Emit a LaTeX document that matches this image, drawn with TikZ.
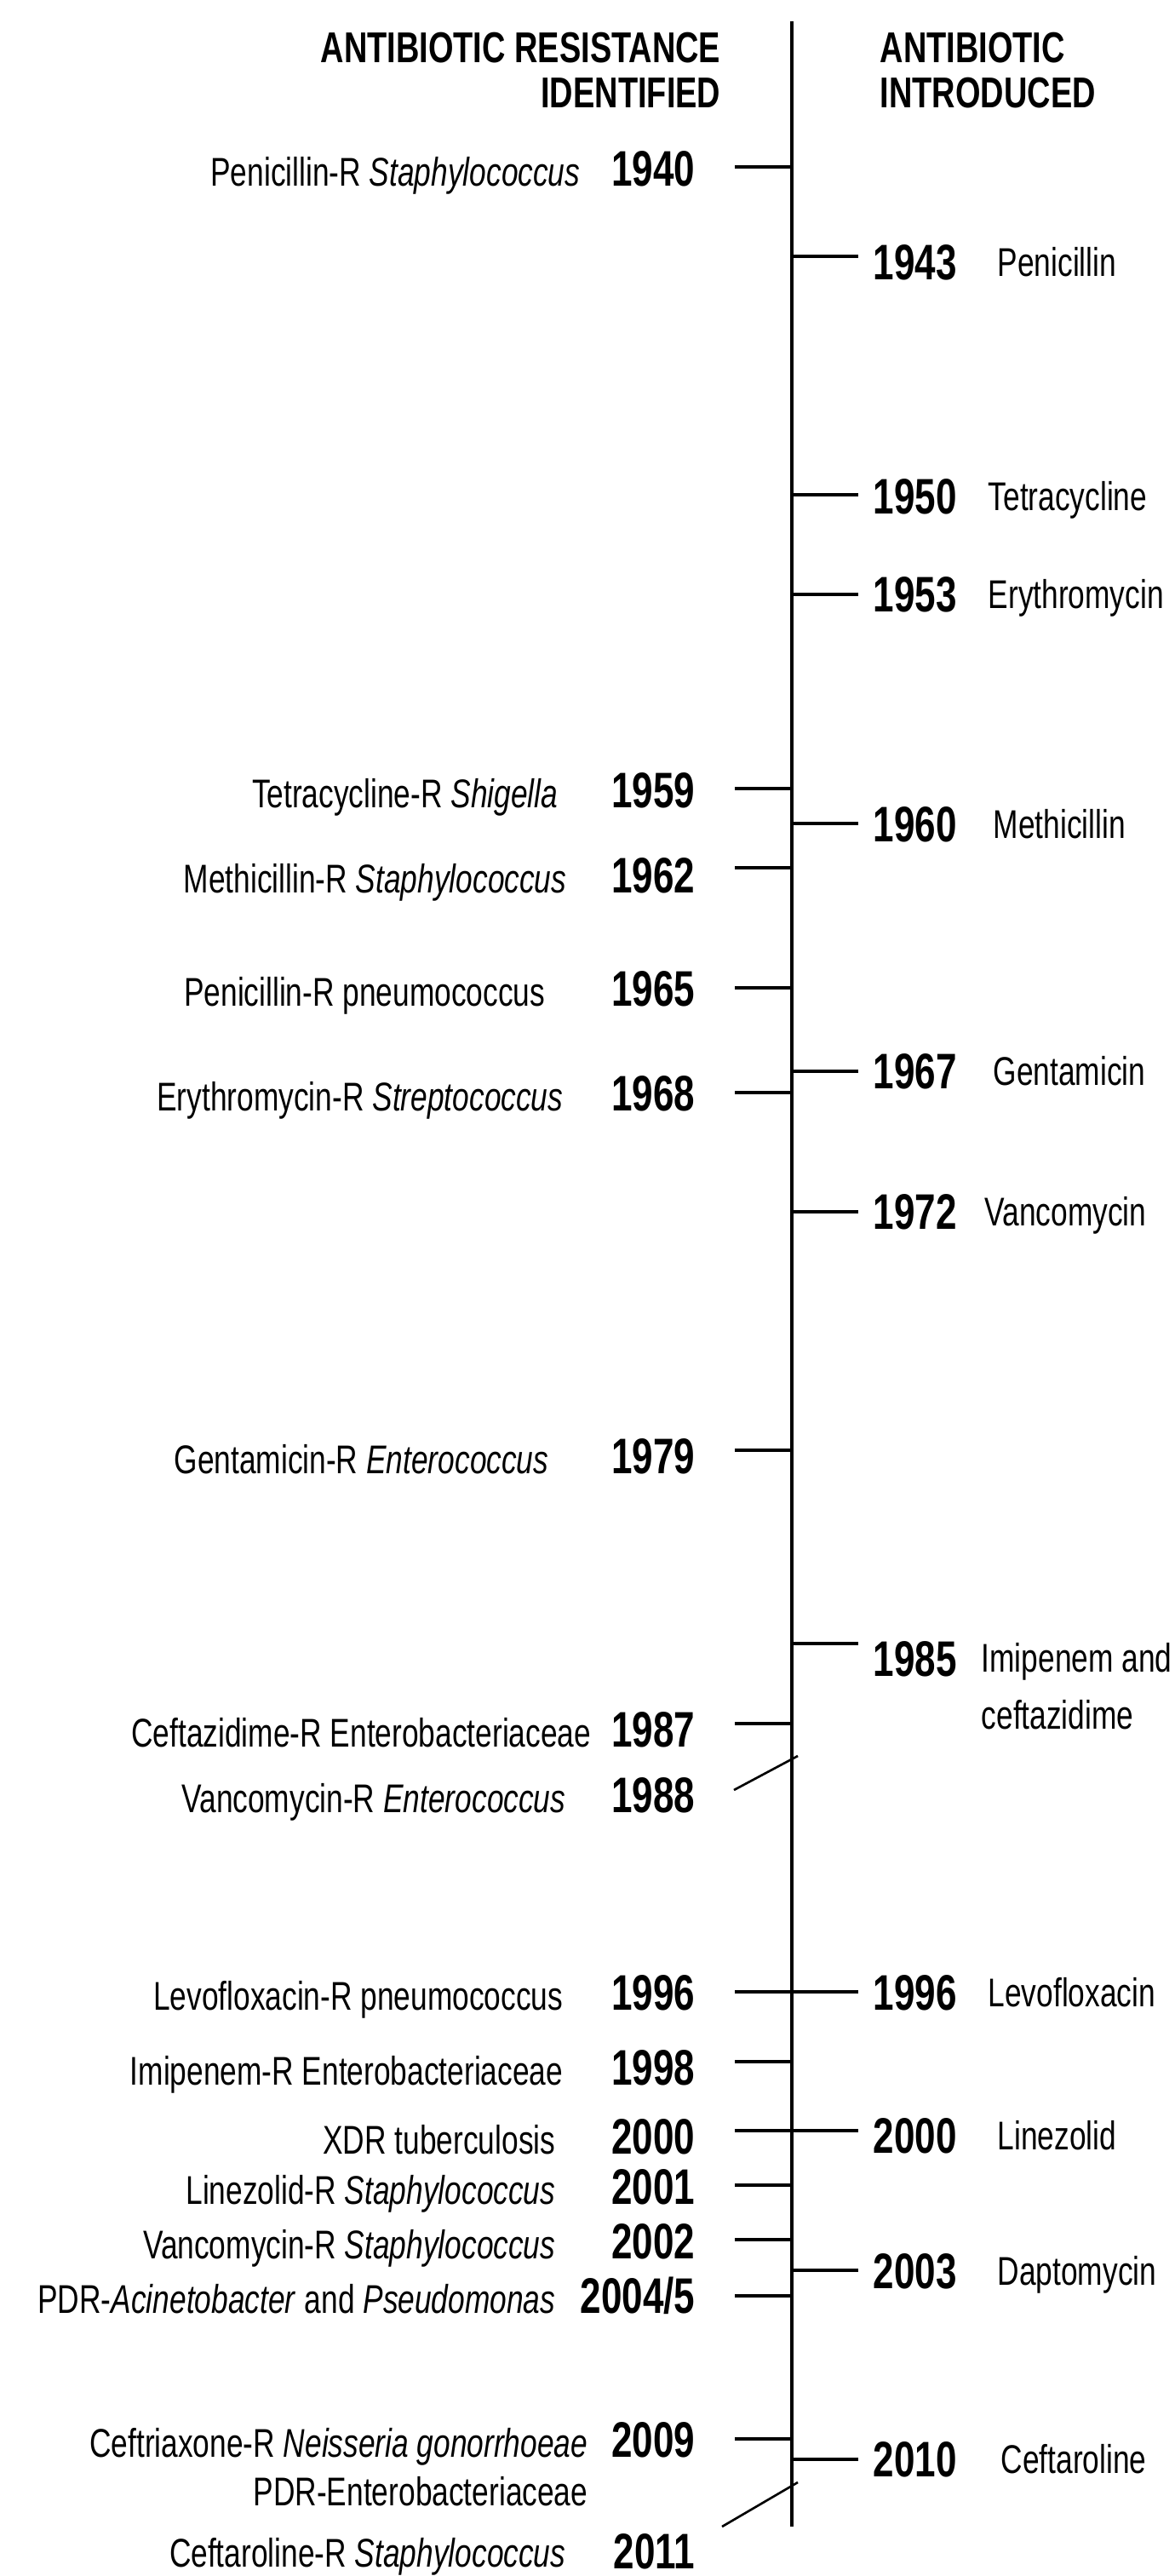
\documentclass[tikz,border=0pt]{standalone}
\usepackage{fontspec}
\setmainfont{Liberation Sans}[FakeStretch=0.75]
\usepackage{tikz}

\tikzset{
  axisline/.style={line width=0.95pt},
  tickline/.style={line width=0.95pt},
  slantline/.style={line width=0.75pt},
  heading/.style={font=\fontsize{14.4}{15.1}\selectfont\bfseries, inner sep=0pt},
  yearlabel/.style={font=\fontsize{16.7}{20}\selectfont\bfseries, inner sep=0pt},
  eventlabel/.style={font=\fontsize{13.4}{16.5}\selectfont, inner sep=0pt}
}

\begin{document}
\begin{tikzpicture}
\useasboundingbox (0,0) rectangle (13.80,-30.25);

\coordinate (top) at (9.30,-0.25);
\coordinate (bot) at (9.30,-29.67);
\draw[axisline] (top) -- (bot);

\node[heading, anchor=north east, align=right] (hres) at (8.47,-0.37) {ANTIBIOTIC RESISTANCE\\IDENTIFIED};
\node[heading, anchor=north west, align=left] (hint) at (10.33,-0.37) {ANTIBIOTIC\\INTRODUCED};

\coordinate (rt1940) at (8.63,-1.96);
\coordinate (rt1959) at (8.63,-9.26);
\coordinate (rt1962) at (8.63,-10.19);
\coordinate (rt1965) at (8.63,-11.60);
\coordinate (rt1968) at (8.63,-12.83);
\coordinate (rt1979) at (8.63,-17.03);
\coordinate (rt1987) at (8.63,-20.24);
\coordinate (rt1988) at (8.62,-21.02);
\coordinate (ra1988) at (9.37,-20.62);
\coordinate (rt1996) at (8.63,-23.39);
\coordinate (rt1998) at (8.63,-24.21);
\coordinate (rt2000) at (8.63,-25.02);
\coordinate (rt2001) at (8.63,-25.66);
\coordinate (rt2002) at (8.63,-26.30);
\coordinate (rt2004) at (8.63,-26.96);
\coordinate (rt2009) at (8.63,-28.64);
\coordinate (rt2011) at (8.48,-29.67);
\coordinate (ra2011) at (9.37,-29.15);

\draw[tickline] (rt1940) -- (rt1940 -| top);
\draw[tickline] (rt1959) -- (rt1959 -| top);
\draw[tickline] (rt1962) -- (rt1962 -| top);
\draw[tickline] (rt1965) -- (rt1965 -| top);
\draw[tickline] (rt1968) -- (rt1968 -| top);
\draw[tickline] (rt1979) -- (rt1979 -| top);
\draw[tickline] (rt1987) -- (rt1987 -| top);
\draw[slantline] (rt1988) -- (ra1988);
\draw[tickline] (rt1996) -- (rt1996 -| top);
\draw[tickline] (rt1998) -- (rt1998 -| top);
\draw[tickline] (rt2000) -- (rt2000 -| top);
\draw[tickline] (rt2001) -- (rt2001 -| top);
\draw[tickline] (rt2002) -- (rt2002 -| top);
\draw[tickline] (rt2004) -- (rt2004 -| top);
\draw[tickline] (rt2009) -- (rt2009 -| top);
\draw[slantline] (rt2011) -- (ra2011);

\node[yearlabel, anchor=base east] (ry1940) at (8.17,-2.18) {1940};
\node[yearlabel, anchor=base east] (ry1959) at (8.17,-9.48) {1959};
\node[yearlabel, anchor=base east] (ry1962) at (8.17,-10.48) {1962};
\node[yearlabel, anchor=base east] (ry1965) at (8.17,-11.81) {1965};
\node[yearlabel, anchor=base east] (ry1968) at (8.17,-13.04) {1968};
\node[yearlabel, anchor=base east] (ry1979) at (8.17,-17.30) {1979};
\node[yearlabel, anchor=base east] (ry1987) at (8.17,-20.51) {1987};
\node[yearlabel, anchor=base east] (ry1988) at (8.17,-21.28) {1988};
\node[yearlabel, anchor=base east] (ry1996) at (8.17,-23.60) {1996};
\node[yearlabel, anchor=base east] (ry1998) at (8.17,-24.48) {1998};
\node[yearlabel, anchor=base east] (ry2000) at (8.17,-25.29) {2000};
\node[yearlabel, anchor=base east] (ry2001) at (8.17,-25.88) {2001};
\node[yearlabel, anchor=base east] (ry2002) at (8.17,-26.52) {2002};
\node[yearlabel, anchor=base east] (ry2004) at (8.17,-27.16) {2004/5};
\node[yearlabel, anchor=base east] (ry2009) at (8.17,-28.85) {2009};
\node[yearlabel, anchor=base east] (ry2011) at (8.17,-30.16) {2011};

\node[eventlabel, anchor=base east] (rl1940) at (6.82,-2.18) {Penicillin-R \textit{Staphylococcus}};
\node[eventlabel, anchor=base east] (rl1959) at (6.56,-9.48) {Tetracycline-R \textit{Shigella}};
\node[eventlabel, anchor=base east] (rl1962) at (6.66,-10.48) {Methicillin-R \textit{Staphylococcus}};
\node[eventlabel, anchor=base east] (rl1965) at (6.41,-11.81) {Penicillin-R pneumococcus};
\node[eventlabel, anchor=base east] (rl1968) at (6.62,-13.04) {Erythromycin-R \textit{Streptococcus}};
\node[eventlabel, anchor=base east] (rl1979) at (6.45,-17.30) {Gentamicin-R \textit{Enterococcus}};
\node[eventlabel, anchor=base east] (rl1987) at (6.95,-20.51) {Ceftazidime-R Enterobacteriaceae};
\node[eventlabel, anchor=base east] (rl1988) at (6.65,-21.28) {Vancomycin-R \textit{Enterococcus}};
\node[eventlabel, anchor=base east] (rl1996) at (6.62,-23.60) {Levofloxacin-R pneumococcus};
\node[eventlabel, anchor=base east] (rl1998) at (6.62,-24.48) {Imipenem-R Enterobacteriaceae};
\node[eventlabel, anchor=base east] (rl2000) at (6.53,-25.29) {XDR tuberculosis};
\node[eventlabel, anchor=base east] (rl2001) at (6.53,-25.88) {Linezolid-R \textit{Staphylococcus}};
\node[eventlabel, anchor=base east] (rl2002) at (6.53,-26.52) {Vancomycin-R \textit{Staphylococcus}};
\node[eventlabel, anchor=base east] (rl2004) at (6.53,-27.16) {PDR-\textit{Acinetobacter} and \textit{Pseudomonas}};
\node[eventlabel, anchor=base east] (rl2009) at (6.91,-28.85) {Ceftriaxone-R \textit{Neisseria gonorrhoeae}};
\node[eventlabel, anchor=base east] (rl2009b) at (6.91,-29.42) {PDR-Enterobacteriaceae};
\node[eventlabel, anchor=base east] (rl2011) at (6.65,-30.14) {Ceftaroline-R \textit{Staphylococcus}};

\coordinate (it1943) at (10.08,-3.01);
\coordinate (it1950) at (10.08,-5.81);
\coordinate (it1953) at (10.08,-6.98);
\coordinate (it1960) at (10.08,-9.67);
\coordinate (it1967) at (10.08,-12.58);
\coordinate (it1972) at (10.08,-14.23);
\coordinate (it1985) at (10.08,-19.30);
\coordinate (it1996) at (10.08,-23.39);
\coordinate (it2000) at (10.08,-25.02);
\coordinate (it2003) at (10.08,-26.66);
\coordinate (it2010) at (10.08,-28.88);

\draw[tickline] (it1943 -| top) -- (it1943);
\draw[tickline] (it1950 -| top) -- (it1950);
\draw[tickline] (it1953 -| top) -- (it1953);
\draw[tickline] (it1960 -| top) -- (it1960);
\draw[tickline] (it1967 -| top) -- (it1967);
\draw[tickline] (it1972 -| top) -- (it1972);
\draw[tickline] (it1985 -| top) -- (it1985);
\draw[tickline] (it1996 -| top) -- (it1996);
\draw[tickline] (it2000 -| top) -- (it2000);
\draw[tickline] (it2003 -| top) -- (it2003);
\draw[tickline] (it2010 -| top) -- (it2010);

\node[yearlabel, anchor=base west] (iy1943) at (10.25,-3.28) {1943};
\node[yearlabel, anchor=base west] (iy1950) at (10.25,-6.03) {1950};
\node[yearlabel, anchor=base west] (iy1953) at (10.25,-7.18) {1953};
\node[yearlabel, anchor=base west] (iy1960) at (10.25,-9.88) {1960};
\node[yearlabel, anchor=base west] (iy1967) at (10.25,-12.78) {1967};
\node[yearlabel, anchor=base west] (iy1972) at (10.25,-14.43) {1972};
\node[yearlabel, anchor=base west] (iy1985) at (10.25,-19.68) {1985};
\node[yearlabel, anchor=base west] (iy1996) at (10.25,-23.60) {1996};
\node[yearlabel, anchor=base west] (iy2000) at (10.25,-25.28) {2000};
\node[yearlabel, anchor=base west] (iy2003) at (10.25,-26.87) {2003};
\node[yearlabel, anchor=base west] (iy2010) at (10.25,-29.08) {2010};

\node[eventlabel, anchor=base west] (il1943) at (11.71,-3.24) {Penicillin};
\node[eventlabel, anchor=base west] (il1950) at (11.60,-5.99) {Tetracycline};
\node[eventlabel, anchor=base west] (il1953) at (11.60,-7.14) {Erythromycin};
\node[eventlabel, anchor=base west] (il1960) at (11.66,-9.84) {Methicillin};
\node[eventlabel, anchor=base west] (il1967) at (11.66,-12.74) {Gentamicin};
\node[eventlabel, anchor=base west] (il1972) at (11.56,-14.39) {Vancomycin};
\node[eventlabel, anchor=base west] (il1985) at (11.52,-19.63) {Imipenem and};
\node[eventlabel, anchor=base west] (il1985b) at (11.52,-20.30) {ceftazidime};
\node[eventlabel, anchor=base west] (il1996) at (11.60,-23.56) {Levofloxacin};
\node[eventlabel, anchor=base west] (il2000) at (11.71,-25.24) {Linezolid};
\node[eventlabel, anchor=base west] (il2003) at (11.71,-26.83) {Daptomycin};
\node[eventlabel, anchor=base west] (il2010) at (11.75,-29.04) {Ceftaroline};
\end{tikzpicture}
\end{document}
